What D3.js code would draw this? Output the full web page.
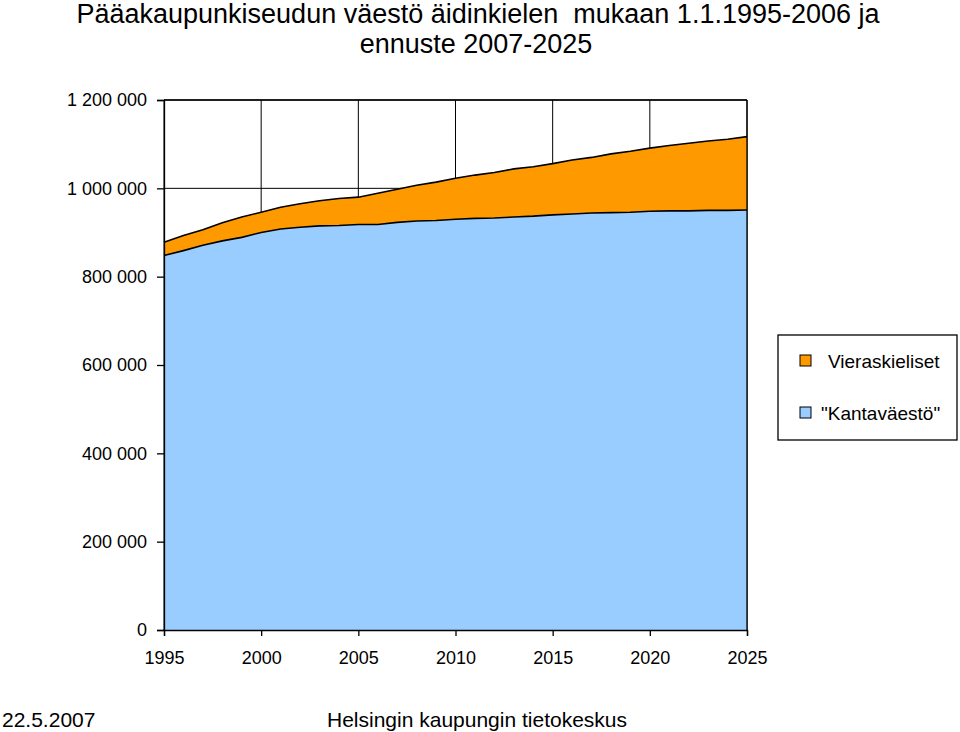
<!DOCTYPE html>
<html><head><meta charset="utf-8">
<script src="https://cdn.jsdelivr.net/npm/d3@7"></script>
<style>body{margin:0;background:#fff}svg{display:block;font-family:"Liberation Sans",Arial,sans-serif}</style>
</head><body><svg id="c" width="960" height="732"></svg>
<script>
const years = d3.range(1995, 2026);
const kantavaesto = [848,859,871,881,889,900,908,912,915,916,918,918,923,926,927,930,932,933,935,937,940,942,944,945,946,948,949,949,950,950,951].map(v=>v*1000);
const vieraskieliset = [30,34,35,41,46,46,49,53,57,61,62,71,75,81,87,93,98,103,109,112,116,122,126,133,138,143,148,153,157,161,166].map(v=>v*1000);
const seriesNames = ["\"Kantaväestö\"", "Vieraskieliset"];
const yTicks = [0,200000,400000,600000,800000,1000000,1200000];
const xTicks = [1995,2000,2005,2010,2015,2020,2025];
const colors = {"Vieraskieliset":"#FF9900","\"Kantaväestö\"":"#99CCFF"};

const svg = d3.select("#c");
const L=164, R=747, T=100, B=630;
const x = d3.scaleLinear().domain([1995,2025]).range([L,R]);
const y = d3.scaleLinear().domain([0,1200000]).range([B,T]);
const fmt = v => d3.format(",")(v).replace(/,/g," ");

// grid
const g = svg.append("g");
g.selectAll(".hg").data(yTicks).join("line").attr("x1",L).attr("x2",R).attr("y1",d=>y(d)).attr("y2",d=>y(d)).attr("stroke","#000").attr("stroke-width",1);
g.selectAll(".vg").data(xTicks).join("line").attr("x1",d=>x(d)).attr("x2",d=>x(d)).attr("y1",T).attr("y2",B).attr("stroke","#000").attr("stroke-width",1);

// stacked areas
const data = years.map((yr,i)=>({year:yr, "\"Kantaväestö\"":kantavaesto[i], "Vieraskieliset":vieraskieliset[i]}));
const stack = d3.stack().keys(seriesNames)(data);
const area = d3.area().x(d=>x(d.data.year)).y0(d=>y(d[0])).y1(d=>y(d[1]));
const line = d3.line().x(d=>x(d.data.year)).y(d=>y(d[1]));
svg.selectAll(".ar").data(stack).join("path").attr("d",area).attr("fill",d=>colors[d.key]);
svg.selectAll(".ln").data(stack).join("path").attr("d",line).attr("fill","none").attr("stroke","#000").attr("stroke-width",1.6);

// borders
svg.append("line").attr("x1",R).attr("x2",R).attr("y1",T).attr("y2",B).attr("stroke","#000").attr("stroke-width",1.3);
svg.append("line").attr("x1",L).attr("x2",R).attr("y1",T).attr("y2",T).attr("stroke","#000").attr("stroke-width",1.3);

// axes
const ya = svg.append("g").attr("transform",`translate(${L},0)`).call(d3.axisLeft(y).tickValues(yTicks).tickFormat(fmt).tickSize(7).tickPadding(10));
const xa = svg.append("g").attr("transform",`translate(0,${B})`).call(d3.axisBottom(x).tickValues(xTicks).tickFormat(d3.format("d")).tickSize(6).tickPadding(15));
[ya,xa].forEach(a=>{a.select(".domain").attr("stroke","#000").attr("stroke-width",1.3);a.selectAll(".tick line").attr("stroke","#000").attr("stroke-width",1.3);a.selectAll("text").attr("font-size",18).attr("fill","#000").attr("font-family","Liberation Sans, Arial, sans-serif");});

// title
svg.append("text").attr("x",478).attr("y",23).attr("text-anchor","middle").attr("font-size",27).style("white-space","pre").text("Pääakaupunkiseudun väestö äidinkielen  mukaan 1.1.1995-2006 ja");
svg.append("text").attr("x",476).attr("y",53).attr("text-anchor","middle").attr("font-size",27).text("ennuste 2007-2025");

// legend
svg.append("rect").attr("x",778).attr("y",335).attr("width",179).attr("height",105).attr("fill","#fff").attr("stroke","#000").attr("stroke-width",1.3);
const leg = [{name:"Vieraskieliset", ty:361, tx:828},{name:"\"Kantaväestö\"", ty:413, tx:821}];
leg.forEach(e=>{
  svg.append("rect").attr("x",800).attr("y",e.ty-6).attr("width",11).attr("height",11).attr("fill",colors[e.name]).attr("stroke","#000").attr("stroke-width",1);
  svg.append("text").attr("x",e.tx).attr("y",e.ty).attr("dy","0.35em").attr("font-size",19).text(e.name);
});

// footer
svg.append("text").attr("x",2).attr("y",727).attr("font-size",21).text("22.5.2007");
svg.append("text").attr("x",477).attr("y",727).attr("text-anchor","middle").attr("font-size",21).text("Helsingin kaupungin tietokeskus");
</script></body></html>
